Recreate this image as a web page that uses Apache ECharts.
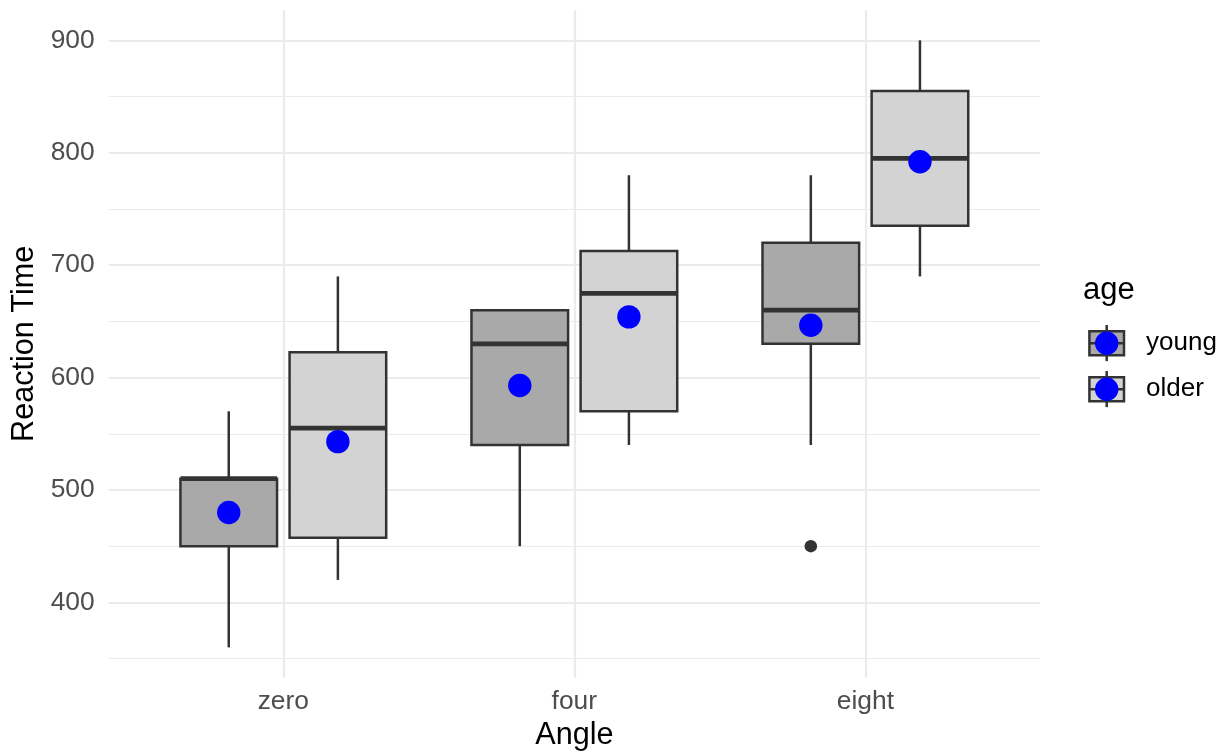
<!DOCTYPE html>
<html><head><meta charset="utf-8">
<script src="https://cdn.jsdelivr.net/npm/echarts@6/dist/echarts.min.js"></script>
<style>html,body{margin:0;padding:0;background:#fff}#c{width:1225px;height:753px}</style>
</head><body><div id="c"></div>
<script>
// ---- data ----
const angles = ['zero', 'four', 'eight'];
const ageGroups = ['young', 'older'];
// box stats per angle: [min, Q1, median, Q3, max]
const youngBox = [[360, 450, 510, 510, 570], [450, 540, 630, 660, 660], [540, 630, 660, 720, 780]];
const olderBox = [[420, 457.5, 555, 622.5, 690], [540, 570, 675, 712.5, 780], [690, 735, 795, 855, 900]];
const youngMean = [480, 593, 646.5];
const olderMean = [543, 654, 792];
const youngOutliers = [['eight', 450]];
const olderOutliers = [];
const yTicks = [400, 500, 600, 700, 800, 900];
const yMinorTicks = [350, 450, 550, 650, 750, 850];

// ---- styling / layout constants ----
const FONT = '"Liberation Sans", Arial, Helvetica, sans-serif';
const DODGE = 0.1875;
const BOX_W = 0.332;
const FILLS = ['#A9A9A9', '#D3D3D3'];
const INK = '#333333';
const GRID = '#EBEBEB';
const LW = 2.5;

const boxData = [];
youngBox.forEach((s, i) => boxData.push([i - DODGE, ...s, 0]));
olderBox.forEach((s, i) => boxData.push([i + DODGE, ...s, 1]));
const meanData = [
  ...youngMean.map((v, i) => [i - DODGE, v]),
  ...olderMean.map((v, i) => [i + DODGE, v])
];
const outlierData = [
  ...youngOutliers.map(([a, v]) => [angles.indexOf(a) - DODGE, v]),
  ...olderOutliers.map(([a, v]) => [angles.indexOf(a) + DODGE, v])
];

function renderBox(params, api) {
  const x = api.value(0);
  const lo = api.coord([x, api.value(1)]);
  const q1 = api.coord([x, api.value(2)]);
  const md = api.coord([x, api.value(3)]);
  const q3 = api.coord([x, api.value(4)]);
  const hi = api.coord([x, api.value(5)]);
  const hw = api.size([BOX_W, 0])[0] / 2;
  const fill = FILLS[api.value(6)];
  const st = { stroke: INK, lineWidth: LW };
  return {
    type: 'group',
    children: [
      { type: 'line', shape: { x1: lo[0], y1: lo[1], x2: q1[0], y2: q1[1] }, style: st },
      { type: 'line', shape: { x1: q3[0], y1: q3[1], x2: hi[0], y2: hi[1] }, style: st },
      { type: 'rect', shape: { x: q3[0] - hw, y: q3[1], width: 2 * hw, height: q1[1] - q3[1] },
        style: { fill: fill, stroke: INK, lineWidth: LW } },
      { type: 'line', shape: { x1: md[0] - hw, y1: md[1], x2: md[0] + hw, y2: md[1] },
        style: { stroke: INK, lineWidth: LW * 1.9 } }
    ]
  };
}

const gridLines = [
  ...yTicks.map(v => ({ yAxis: v, lineStyle: { color: GRID, width: 2.2, type: 'solid' } })),
  ...yMinorTicks.map(v => ({ yAxis: v, lineStyle: { color: GRID, width: 1.1, type: 'solid' } })),
  ...angles.map((a, i) => ({ xAxis: i, lineStyle: { color: GRID, width: 2.2, type: 'solid' } }))
];

// legend (drawn as graphics)
const legendEls = [{
  type: 'text', x: 1083, y: 290,
  style: { text: 'age', fontSize: 31, fontFamily: FONT, fill: '#000', align: 'left', verticalAlign: 'middle' }
}];
ageGroups.forEach((g, i) => {
  const cy = 343.3 + i * 46;
  const cx = 1106.7;
  legendEls.push(
    { type: 'line', shape: { x1: cx, y1: cy - 18.3, x2: cx, y2: cy + 17.8 }, style: { stroke: INK, lineWidth: LW } },
    { type: 'rect', shape: { x: 1089.4, y: cy - 12, width: 34.6, height: 24 }, style: { fill: FILLS[i], stroke: INK, lineWidth: LW } },
    { type: 'line', shape: { x1: 1089.4, y1: cy, x2: 1124, y2: cy }, style: { stroke: INK, lineWidth: 2.6 } },
    { type: 'circle', shape: { cx: cx, cy: cy, r: 11.7 }, style: { fill: '#0000FF' } },
    { type: 'text', x: 1146, y: cy,
      style: { text: g, fontSize: 26, fontFamily: FONT, fill: '#000', align: 'left', verticalAlign: 'middle' } }
  );
});

const chart = echarts.init(document.getElementById('c'), null, { renderer: 'canvas' });
chart.setOption({
  animation: false,
  backgroundColor: '#fff',
  textStyle: { fontFamily: FONT },
  grid: { left: 108.7, right: 185, top: 10, bottom: 75.3, containLabel: false, outerBoundsMode: 'none' },
  xAxis: {
    type: 'value', min: -0.6, max: 2.6,
    axisLine: { show: false }, axisTick: { show: false }, splitLine: { show: false },
    axisLabel: {
      customValues: [0, 1, 2],
      formatter: v => (Math.abs(v - Math.round(v)) < 1e-9 && angles[Math.round(v)]) || '',
      fontSize: 26.4, color: '#4D4D4D', fontFamily: FONT, margin: 11
    },
    name: 'Angle', nameLocation: 'middle', nameGap: 42,
    nameTextStyle: { fontSize: 30.6, color: '#000', fontFamily: FONT }
  },
  yAxis: {
    type: 'value', min: 333, max: 927,
    axisLine: { show: false }, axisTick: { show: false }, splitLine: { show: false },
    axisLabel: {
      customValues: yTicks,
      formatter: v => (yTicks.includes(v) ? String(v) : ''),
      fontSize: 26.4, color: '#4D4D4D', fontFamily: FONT, margin: 14
    },
    name: 'Reaction Time', nameLocation: 'middle', nameGap: 68, nameRotate: 90,
    nameTextStyle: { fontSize: 30.6, color: '#000', fontFamily: FONT }
  },
  series: [
    {
      type: 'line', data: [], silent: true, z: 0,
      markLine: { silent: true, symbol: 'none', z: 0, animation: false, label: { show: false }, data: gridLines }
    },
    {
      type: 'custom', name: 'boxes', z: 2, renderItem: renderBox, data: boxData,
      encode: { x: 0, y: [1, 2, 3, 4, 5] }, silent: true
    },
    {
      type: 'scatter', name: 'outliers', z: 3, data: outlierData, symbol: 'circle', symbolSize: 12.5,
      itemStyle: { color: INK, opacity: 1 }, silent: true
    },
    {
      type: 'scatter', name: 'means', z: 4, data: meanData, symbol: 'circle', symbolSize: 23.4,
      itemStyle: { color: '#0000FF', opacity: 1 }, silent: true
    }
  ],
  graphic: legendEls
});
</script>
</body></html>
